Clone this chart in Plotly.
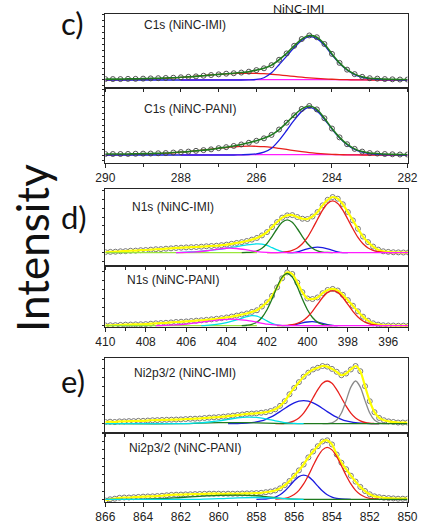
import plotly.graph_objects as go

# ---------------- C1s (binding energy, eV) ----------------
C_BE = [290.0, 289.8, 289.6, 289.4, 289.2, 289.0, 288.8, 288.6, 288.4, 288.2, 288.0,
        287.8, 287.6, 287.4, 287.2, 287.0, 286.8, 286.6, 286.4, 286.2, 286.0,
        285.8, 285.6, 285.4, 285.2, 285.0, 284.8, 284.6, 284.4, 284.2, 284.0,
        283.8, 283.6, 283.4, 283.2, 283.0, 282.8, 282.6, 282.4, 282.2, 282.0]
C_IMI_data = [0.02, 0.02, 0.02, 0.025, 0.025, 0.03, 0.035, 0.04, 0.045, 0.05, 0.06,
              0.07, 0.08, 0.095, 0.11, 0.125, 0.14, 0.15, 0.165, 0.185, 0.22,
              0.26, 0.33, 0.45, 0.59, 0.76, 0.91, 0.99, 0.95, 0.80, 0.58,
              0.38, 0.23, 0.13, 0.07, 0.04, 0.03, 0.02, 0.015, 0.01, 0.01]
C_IMI_red = [0.0, 0.002, 0.004, 0.007, 0.01, 0.014, 0.02, 0.027, 0.036, 0.046, 0.058,
             0.07, 0.084, 0.098, 0.112, 0.125, 0.136, 0.144, 0.149, 0.15, 0.147,
             0.14, 0.128, 0.113, 0.096, 0.079, 0.062, 0.047, 0.034, 0.024, 0.016,
             0.01, 0.006, 0.003, 0.001, 0.0, 0.0, 0.0, 0.0, 0.0, 0.0]
C_IMI_blue = [0.0, 0.0, 0.0, 0.0, 0.0, 0.0, 0.0, 0.0, 0.0, 0.0, 0.0,
              0.0, 0.0, 0.0, 0.0, 0.0, 0.0, 0.0, 0.0, 0.003, 0.012,
              0.05, 0.16, 0.34, 0.53, 0.72, 0.88, 0.965, 0.92, 0.77, 0.56,
              0.37, 0.22, 0.12, 0.06, 0.028, 0.012, 0.005, 0.002, 0.0, 0.0]
C_PANI_data = [0.02, 0.02, 0.02, 0.022, 0.025, 0.028, 0.03, 0.035, 0.04, 0.05, 0.06,
               0.07, 0.085, 0.10, 0.115, 0.14, 0.16, 0.185, 0.215, 0.25, 0.29,
               0.34, 0.41, 0.52, 0.66, 0.81, 0.94, 1.0, 0.93, 0.75, 0.54,
               0.36, 0.22, 0.125, 0.07, 0.04, 0.03, 0.02, 0.015, 0.01, 0.01]
C_PANI_red = [0.0, 0.003, 0.005, 0.008, 0.011, 0.015, 0.02, 0.027, 0.035, 0.045, 0.057,
              0.071, 0.086, 0.103, 0.12, 0.137, 0.153, 0.166, 0.175, 0.18, 0.178,
              0.17, 0.155, 0.135, 0.113, 0.09, 0.069, 0.05, 0.035, 0.023, 0.014,
              0.008, 0.004, 0.002, 0.0, 0.0, 0.0, 0.0, 0.0, 0.0, 0.0]
C_PANI_blue = [0.0, 0.0, 0.0, 0.0, 0.0, 0.0, 0.0, 0.0, 0.0, 0.0, 0.0,
               0.0, 0.0, 0.0, 0.0, 0.0, 0.0, 0.0, 0.004, 0.01, 0.025,
               0.06, 0.14, 0.30, 0.50, 0.71, 0.89, 0.97, 0.90, 0.73, 0.53,
               0.35, 0.21, 0.115, 0.06, 0.03, 0.013, 0.005, 0.002, 0.0, 0.0]
C_MAG_BE = [288.0, 287.0, 286.0, 285.0, 284.0, 283.0, 282.0]
C_MAG = [0.0, 0.003, 0.006, 0.008, 0.007, 0.003, 0.0]

# ---------------- N1s ----------------
N_BE = [410.0, 409.75, 409.5, 409.25, 409.0, 408.75, 408.5, 408.25, 408.0,
        407.75, 407.5, 407.25, 407.0, 406.75, 406.5, 406.25, 406.0,
        405.75, 405.5, 405.25, 405.0, 404.75, 404.5, 404.25, 404.0,
        403.75, 403.5, 403.25, 403.0, 402.75, 402.5, 402.25, 402.0,
        401.75, 401.5, 401.25, 401.0, 400.75, 400.5, 400.25, 400.0,
        399.75, 399.5, 399.25, 399.0, 398.75, 398.5, 398.25, 398.0,
        397.75, 397.5, 397.25, 397.0, 396.75, 396.5, 396.25, 396.0,
        395.75, 395.5, 395.25, 395.0]
N_IMI_data = [0.01, 0.015, 0.018, 0.025, 0.028, 0.035, 0.037, 0.045, 0.048,
              0.055, 0.062, 0.064, 0.072, 0.078, 0.085, 0.09, 0.095,
              0.099, 0.102, 0.108, 0.115, 0.12, 0.125, 0.135, 0.145,
              0.16, 0.175, 0.19, 0.21, 0.235, 0.265, 0.31, 0.37,
              0.46, 0.55, 0.63, 0.67, 0.675, 0.64, 0.61, 0.605,
              0.65, 0.73, 0.85, 0.95, 1.0, 0.97, 0.87, 0.73,
              0.58, 0.43, 0.29, 0.19, 0.11, 0.055, 0.025, 0.015,
              0.008, 0.006, 0.003, 0.004]
N_PANI_data = [0.005, 0.008, 0.01, 0.015, 0.02, 0.022, 0.025, 0.027, 0.03,
               0.038, 0.045, 0.05, 0.055, 0.062, 0.07, 0.075, 0.08,
               0.088, 0.095, 0.102, 0.11, 0.12, 0.13, 0.142, 0.155,
               0.172, 0.19, 0.21, 0.23, 0.26, 0.29, 0.36, 0.44,
               0.56, 0.72, 0.89, 1.0, 0.97, 0.81, 0.63, 0.51,
               0.50, 0.53, 0.61, 0.67, 0.69, 0.66, 0.58, 0.48,
               0.375, 0.27, 0.17, 0.095, 0.045, 0.02, 0.008, 0.005,
               0.003, 0.0, 0.002, 0.0]

N_IMI_red_BE = [402.0, 401.5, 401.25, 401.0, 400.75, 400.5, 400.25, 400.0, 399.75, 399.5,
                399.25, 399.0, 398.75, 398.5, 398.25, 398.0, 397.75, 397.5, 397.25, 397.0,
                396.75, 396.5, 396.25, 396.0, 395.5]
N_IMI_red = [0.0, 0.003, 0.007, 0.018, 0.041, 0.085, 0.16, 0.275, 0.43, 0.6,
             0.765, 0.885, 0.93, 0.885, 0.765, 0.6, 0.43, 0.275, 0.16, 0.085,
             0.041, 0.018, 0.007, 0.003, 0.0]
N_green_BE = [403.25, 403.0, 402.75, 402.5, 402.25, 402.0, 401.75, 401.5, 401.25, 401.0,
              400.75, 400.5, 400.25, 400.0, 399.75, 399.5, 399.25, 399.0, 398.75]
N_IMI_green = [0.0, 0.004, 0.012, 0.034, 0.081, 0.166, 0.29, 0.43, 0.545, 0.59,
               0.545, 0.43, 0.29, 0.166, 0.081, 0.034, 0.012, 0.004, 0.0]
N_IMI_cyan_BE = [406.5, 406.0, 405.5, 405.0, 404.5, 404.0, 403.5, 403.0, 402.5, 402.25,
                 402.0, 401.75, 401.5, 401.25, 401.0, 400.5]
N_IMI_cyan = [0.0, 0.01, 0.02, 0.035, 0.055, 0.08, 0.11, 0.14, 0.16, 0.155,
              0.13, 0.09, 0.05, 0.02, 0.005, 0.0]
N_IMI_mag_BE = [406.5, 406.0, 405.5, 405.0, 404.5, 404.0, 403.5, 403.0, 402.5, 402.0,
                401.5, 401.0, 398.0, 395.0]
N_IMI_mag = [0.0, 0.005, 0.015, 0.035, 0.06, 0.08, 0.075, 0.05, 0.02, 0.005,
             0.0, 0.0, 0.0, 0.0]
N_IMI_blue_BE = [401.0, 400.75, 400.5, 400.25, 400.0, 399.75, 399.5, 399.25, 399.0,
                 398.75, 398.5, 398.25, 398.0]
N_IMI_blue = [0.0, 0.003, 0.015, 0.04, 0.07, 0.092, 0.1, 0.092, 0.07,
              0.04, 0.015, 0.003, 0.0]
N_lime_BE = [410.0, 406.0, 402.5]
N_lime = [0.0, 0.0, 0.0]

N_PANI_green = [0.0, 0.009, 0.026, 0.068, 0.155, 0.30, 0.50, 0.73, 0.91, 0.98,
                0.91, 0.73, 0.50, 0.30, 0.155, 0.068, 0.026, 0.009, 0.0]
N_PANI_red_BE = [401.5, 401.25, 401.0, 400.75, 400.5, 400.25, 400.0, 399.75, 399.5, 399.25,
                 399.0, 398.75, 398.5, 398.25, 398.0, 397.75, 397.5, 397.25, 397.0, 396.75,
                 396.5, 396.25, 396.0]
N_PANI_red = [0.0, 0.0025, 0.007, 0.019, 0.043, 0.089, 0.165, 0.27, 0.40, 0.53,
              0.625, 0.66, 0.625, 0.53, 0.40, 0.27, 0.165, 0.089, 0.043, 0.019,
              0.007, 0.0025, 0.0]
N_PANI_cyan_BE = [405.25, 405.0, 404.5, 404.0, 403.5, 403.0, 402.75, 402.5, 402.25, 402.0,
                  401.75, 401.5, 401.25, 401.0]
N_PANI_cyan = [0.0, 0.005, 0.025, 0.06, 0.11, 0.17, 0.19, 0.18, 0.14, 0.09,
               0.045, 0.015, 0.003, 0.0]
N_PANI_mag_BE = [407.5, 407.0, 406.5, 406.0, 405.5, 405.0, 404.5, 404.0, 403.5, 403.0,
                 402.5, 402.0, 401.5, 401.0, 400.5, 398.0, 395.0]
N_PANI_mag = [0.0, 0.005, 0.015, 0.03, 0.055, 0.08, 0.105, 0.12, 0.12, 0.1,
              0.065, 0.03, 0.01, 0.002, 0.0, 0.0, 0.0]
N_PANI_blue_BE = [401.0, 400.75, 400.5, 400.25, 400.0, 399.75, 399.5, 399.25, 399.0,
                  398.75, 398.5]
N_PANI_blue = [0.0, 0.01, 0.03, 0.055, 0.07, 0.075, 0.065, 0.045, 0.02, 0.005, 0.0]

# ---------------- Ni2p3/2 ----------------
NI_BE = [866.0, 865.75, 865.5, 865.25, 865.0, 864.75, 864.5, 864.25, 864.0,
         863.75, 863.5, 863.25, 863.0, 862.75, 862.5, 862.25, 862.0,
         861.75, 861.5, 861.25, 861.0, 860.75, 860.5, 860.25, 860.0,
         859.75, 859.5, 859.25, 859.0, 858.75, 858.5, 858.25, 858.0,
         857.75, 857.5, 857.25, 857.0, 856.75, 856.5, 856.25, 856.0,
         855.75, 855.5, 855.25, 855.0, 854.75, 854.5, 854.25, 854.0,
         853.75, 853.5, 853.25, 853.0, 852.75, 852.5, 852.25, 852.0,
         851.75, 851.5, 851.25, 851.0, 850.75, 850.5, 850.25, 850.0]
NI_IMI_data = [0.03, 0.035, 0.03, 0.04, 0.04, 0.045, 0.045, 0.05, 0.05,
               0.055, 0.06, 0.062, 0.065, 0.068, 0.07, 0.072, 0.075,
               0.08, 0.085, 0.087, 0.09, 0.098, 0.105, 0.11, 0.115,
               0.122, 0.13, 0.14, 0.15, 0.16, 0.17, 0.175, 0.18,
               0.19, 0.20, 0.22, 0.25, 0.31, 0.39, 0.51, 0.62,
               0.72, 0.815, 0.885, 0.94, 0.97, 1.0, 0.99, 0.95,
               0.90, 0.84, 0.87, 0.94, 1.0, 0.91, 0.65, 0.39,
               0.20, 0.10, 0.06, 0.04, 0.03, 0.02, 0.02, 0.02]
NI_PANI_data = [-0.02, 0.0, 0.01, 0.025, 0.03, 0.03, 0.035, 0.04, 0.045,
                0.048, 0.05, 0.055, 0.06, 0.068, 0.075, 0.078, 0.08,
                0.083, 0.085, 0.088, 0.09, 0.093, 0.095, 0.095, 0.095,
                0.093, 0.095, 0.094, 0.095, 0.098, 0.10, 0.102, 0.105,
                0.11, 0.12, 0.132, 0.15, 0.185, 0.24, 0.31, 0.40,
                0.49, 0.59, 0.71, 0.81, 0.90, 0.98, 1.0, 0.93,
                0.76, 0.62, 0.51, 0.40, 0.30, 0.21, 0.14, 0.085,
                0.05, 0.035, 0.025, 0.02, 0.015, 0.01, 0.01, 0.01]

NI_IMI_grey_BE = [854.5, 854.25, 854.0, 853.75, 853.5, 853.25, 853.0, 852.75, 852.5,
                  852.25, 852.0, 851.75, 851.5, 851.25, 851.0]
NI_IMI_grey = [0.0, 0.003, 0.016, 0.063, 0.185, 0.40, 0.635, 0.74, 0.635,
               0.40, 0.185, 0.063, 0.016, 0.003, 0.0]
NI_red_BE = [857.0, 856.75, 856.5, 856.25, 856.0, 855.75, 855.5, 855.25, 855.0, 854.75,
             854.5, 854.25, 854.0, 853.75, 853.5, 853.25, 853.0, 852.75, 852.5, 852.25,
             852.0, 851.75, 851.5]
NI_IMI_red = [0.0, 0.003, 0.008, 0.021, 0.049, 0.10, 0.185, 0.305, 0.45, 0.59,
              0.70, 0.74, 0.70, 0.59, 0.45, 0.305, 0.185, 0.10, 0.049, 0.021,
              0.008, 0.003, 0.0]
NI_IMI_blue_BE = [859.5, 859.0, 858.75, 858.5, 858.25, 858.0, 857.75, 857.5, 857.25, 857.0,
                  856.75, 856.5, 856.25, 856.0, 855.75, 855.5, 855.25, 855.0, 854.75, 854.5,
                  854.25, 854.0, 853.75, 853.5, 853.25, 853.0, 852.75, 852.5, 852.25, 852.0,
                  851.5]
NI_IMI_blue = [0.0, 0.002, 0.005, 0.009, 0.017, 0.03, 0.049, 0.077, 0.113, 0.158,
               0.21, 0.265, 0.318, 0.362, 0.39, 0.40, 0.39, 0.362, 0.318, 0.265,
               0.21, 0.158, 0.113, 0.077, 0.049, 0.03, 0.017, 0.009, 0.005, 0.002,
               0.0]
NI_IMI_cyan_BE = [866.0, 862.0, 861.5, 861.0, 860.5, 860.0, 859.5, 859.0, 858.5, 858.0,
                  857.5, 857.0, 856.5, 856.0, 855.5]
NI_IMI_cyan = [0.0, 0.0, 0.005, 0.015, 0.03, 0.05, 0.075, 0.1, 0.115, 0.11,
               0.085, 0.05, 0.02, 0.005, 0.0]
NI_IMI_dkgreen_BE = [866.0, 862.0, 861.0, 860.0, 859.0, 858.0, 857.0, 856.0, 855.0, 850.0]
NI_IMI_dkgreen = [0.0, 0.0, 0.01, 0.018, 0.02, 0.015, 0.006, 0.001, 0.0, 0.0]

NI_PANI_red = [0.003, 0.007, 0.017, 0.039, 0.081, 0.152, 0.26, 0.403, 0.568, 0.724,
               0.838, 0.88, 0.838, 0.724, 0.568, 0.403, 0.26, 0.152, 0.081, 0.039,
               0.017, 0.007, 0.003]
NI_PANI_blue_BE = [858.0, 857.75, 857.5, 857.25, 857.0, 856.75, 856.5, 856.25, 856.0, 855.75,
                   855.5, 855.25, 855.0, 854.75, 854.5, 854.25, 854.0, 853.75, 853.5, 853.25,
                   853.0]
NI_PANI_blue = [0.0, 0.002, 0.005, 0.015, 0.036, 0.076, 0.139, 0.223, 0.313, 0.385,
                0.41, 0.385, 0.313, 0.223, 0.139, 0.076, 0.036, 0.015, 0.005, 0.002,
                0.0]
NI_PANI_dkgreen_BE = [866.0, 864.0, 863.0, 862.0, 861.0, 860.0, 859.0, 858.0, 857.5, 857.0,
                      856.5, 856.0, 855.5, 850.0]
NI_PANI_dkgreen = [0.0, 0.0, 0.01, 0.03, 0.05, 0.065, 0.07, 0.06, 0.045, 0.025,
                   0.01, 0.003, 0.0, 0.0]
NI_PANI_cyan_BE = [866.0, 861.0, 860.0, 859.0, 858.0, 857.0, 856.5, 856.0, 855.5]
NI_PANI_cyan = [0.0, 0.0, 0.01, 0.025, 0.03, 0.02, 0.01, 0.003, 0.0]

# ---------------- labels ----------------
PANEL_TITLES = ["C1s (NiNC-IMI)", "C1s (NiNC-PANI)", "N1s (NiNC-IMI)",
                "N1s (NiNC-PANI)", "Ni2p3/2 (NiNC-IMI)", "Ni2p3/2 (NiNC-PANI)"]
PANEL_LETTERS = ["c)", "d)", "e)"]
TOP_TITLE = "NiNC-IMI"
Y_TITLE = "Intensity"

# colours
RED = "#e8201c"
BLUE = "#1c1ce0"
DKGREEN = "#1f7a1f"
CYAN = "#00e0e8"
MAGENTA = "#ff1cff"
GREY = "#8a8a8a"
YELLOW = "#ffff00"
LIME = "#9ae63c"

W, H = 428, 526
fig = go.Figure()


def ax_id(i):
    return "" if i == 1 else str(i)


def line(x, y, i, color, width=1.3):
    fig.add_trace(go.Scatter(x=x, y=y, xaxis="x" + ax_id(i), yaxis="y" + ax_id(i),
                             mode="lines", line=dict(color=color, width=width,
                                                     shape="spline", smoothing=0.8),
                             hoverinfo="skip"))


def points(x, y, i, color="#505050"):
    fig.add_trace(go.Scatter(x=x, y=y, xaxis="x" + ax_id(i), yaxis="y" + ax_id(i),
                             mode="markers",
                             marker=dict(symbol="circle-open", size=5,
                                         line=dict(color=color, width=0.9),
                                         color=color),
                             hoverinfo="skip"))


# C1s IMI (1)
line(C_MAG_BE, C_MAG, 1, MAGENTA)
line(C_BE, C_IMI_red, 1, RED)
line(C_BE, C_IMI_blue, 1, BLUE)
points(C_BE, C_IMI_data, 1, "#404040")
line(C_BE, C_IMI_data, 1, DKGREEN, 1.6)
# C1s PANI (2)
line(C_MAG_BE, C_MAG, 2, MAGENTA)
line(C_BE, C_PANI_red, 2, RED)
line(C_BE, C_PANI_blue, 2, BLUE)
points(C_BE, C_PANI_data, 2, "#404040")
line(C_BE, C_PANI_data, 2, DKGREEN, 1.6)

# N1s IMI (3)
points(N_BE, N_IMI_data, 3, "#6a6a6a")
line(N_BE, N_IMI_data, 3, YELLOW, 2.2)
line(N_lime_BE, N_lime, 3, LIME)
line(N_IMI_cyan_BE, N_IMI_cyan, 3, CYAN)
line(N_IMI_blue_BE, N_IMI_blue, 3, BLUE)
line(N_green_BE, N_IMI_green, 3, DKGREEN)
line(N_IMI_red_BE, N_IMI_red, 3, RED)
line(N_IMI_mag_BE, N_IMI_mag, 3, MAGENTA)
# N1s PANI (4)
points(N_BE, N_PANI_data, 4, "#6a6a6a")
line(N_BE, N_PANI_data, 4, YELLOW, 2.2)
line(N_lime_BE, N_lime, 4, LIME)
line(N_PANI_cyan_BE, N_PANI_cyan, 4, CYAN)
line(N_PANI_blue_BE, N_PANI_blue, 4, BLUE)
line(N_green_BE, N_PANI_green, 4, DKGREEN)
line(N_PANI_red_BE, N_PANI_red, 4, RED)
line(N_PANI_mag_BE, N_PANI_mag, 4, MAGENTA)

# Ni2p3/2 IMI (5)
points(NI_BE, NI_IMI_data, 5, "#6a6a6a")
line(NI_BE, NI_IMI_data, 5, YELLOW, 2.2)
line(NI_IMI_blue_BE, NI_IMI_blue, 5, BLUE)
line(NI_red_BE, NI_IMI_red, 5, RED)
line(NI_IMI_grey_BE, NI_IMI_grey, 5, GREY)
line(NI_IMI_dkgreen_BE, NI_IMI_dkgreen, 5, DKGREEN)
line(NI_IMI_cyan_BE, NI_IMI_cyan, 5, CYAN)
# Ni2p3/2 PANI (6)
points(NI_BE, NI_PANI_data, 6, "#6a6a6a")
line(NI_BE, NI_PANI_data, 6, YELLOW, 2.2)
line(NI_PANI_blue_BE, NI_PANI_blue, 6, BLUE)
line(NI_red_BE, NI_PANI_red, 6, RED)
line(NI_PANI_dkgreen_BE, NI_PANI_dkgreen, 6, DKGREEN)
line(NI_PANI_cyan_BE, NI_PANI_cyan, 6, CYAN)

# ---------------- axes ----------------
def py(p):
    return 1 - p / H


panels = [
    # (x px left, x px right, y px top, y px bottom, xrange, yrange, bottom?, ydtick)
    (100, 417, 14, 88, [290, 282], [-0.178, 1.467], False, 0.133),
    (100, 417, 88, 163, [290, 282], [-0.163, 1.367], True, 0.122),
    (100, 418, 189, 266, [410, 395], [-0.239, 1.144], False, 0.16),
    (100, 418, 266, 327, [410, 395], [-0.024, 1.12], True, 0.17),
    (100, 417, 358, 433, [866, 850], [-0.161, 1.139], False, 0.16),
    (100, 417, 433, 502, [866, 850], [-0.046, 1.124], True, 0.14),
]

layout = dict(width=W, height=H, margin=dict(l=0, r=0, t=0, b=0),
              paper_bgcolor="white", plot_bgcolor="white", showlegend=False)
AXC = "#262626"
for i, (xl, xr, yt, yb, xrg, yrg, bottom, ydt) in enumerate(panels, start=1):
    xa = dict(domain=[xl / W, xr / W], range=xrg, anchor="y" + ax_id(i),
              showline=True, mirror=True, linecolor=AXC, linewidth=1,
              showgrid=False, zeroline=False, ticks="outside", tickcolor=AXC,
              tickwidth=1, showticklabels=bottom,
              tickfont=dict(family="Arial, Liberation Sans", size=12, color="#222"))
    if bottom:
        xa.update(dtick=2, ticklen=4,
                  minor=dict(dtick=1, ticks="outside", ticklen=2.5, tickcolor=AXC))
    else:
        xa.update(dtick=1, ticklen=3)
    ya = dict(domain=[py(yb), py(yt)], range=yrg, anchor="x" + ax_id(i),
              showline=True, mirror=True, linecolor=AXC, linewidth=1,
              showgrid=False, zeroline=False, ticks="outside", ticklen=2.5,
              tickcolor=AXC, tick0=0, dtick=ydt, showticklabels=False)
    layout["xaxis" + ax_id(i)] = xa
    layout["yaxis" + ax_id(i)] = ya

ann = []
title_pos = [(138, 25), (138, 109), (126, 207), (121, 279.5), (128, 373), (123, 448)]
for t, (px, pyy) in zip(PANEL_TITLES, title_pos):
    ann.append(dict(text=t, x=px / W, y=py(pyy), xref="paper", yref="paper",
                    xanchor="left", yanchor="middle", showarrow=False,
                    font=dict(family="Arial, Liberation Sans", size=12, color="#222")))
for t, (px, pyy) in zip(PANEL_LETTERS, [(66, 23), (67, 217), (66, 381)]):
    ann.append(dict(text=t, x=px / W, y=py(pyy), xref="paper", yref="paper",
                    xanchor="center", yanchor="middle", showarrow=False,
                    font=dict(family="Lato", size=31, color="#111")))
ann.append(dict(text=Y_TITLE, x=23 / W, y=py(248), xref="paper", yref="paper",
                xanchor="center", yanchor="middle", showarrow=False, textangle=-90,
                font=dict(family="Lato", size=44, color="#111")))
ann.append(dict(text=TOP_TITLE, x=303 / W, y=1.0, xref="paper", yref="paper",
                xanchor="center", yanchor="top", showarrow=False,
                font=dict(family="Lato", size=12, color="#111"),
                borderpad=0))
layout["annotations"] = ann

fig.update_layout(**layout)
fig.write_html("out.html")
